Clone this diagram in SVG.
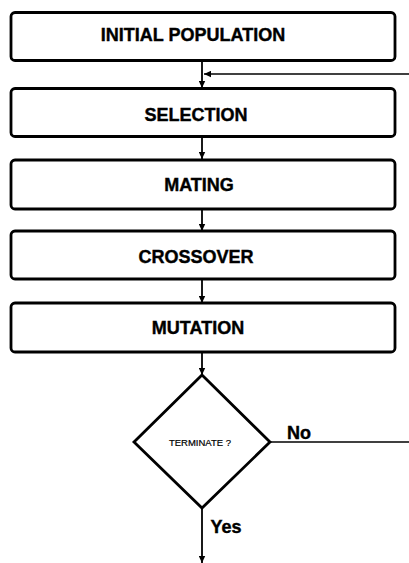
<svg xmlns="http://www.w3.org/2000/svg" width="409" height="563" viewBox="0 0 409 563">
<style>
.box{fill:#fff;stroke:#000;stroke-width:2.8}
.lbl{font-family:"Liberation Sans",Arial,sans-serif;font-weight:bold;font-size:18px;fill:#000;stroke:#000;stroke-width:0.4;text-anchor:middle}
.small{font-family:"Liberation Sans",Arial,sans-serif;font-size:9.5px;fill:#000;stroke:#000;stroke-width:0.2;text-anchor:middle}
.edge{fill:none;stroke:#000;stroke-width:1.8}
.thin{fill:none;stroke:#000;stroke-width:1.3}
</style>
<defs>
<marker id="ah" markerUnits="userSpaceOnUse" markerWidth="7" markerHeight="7" viewBox="0 0 7 7" refX="7" refY="3.5" orient="auto">
<path d="M0,0.3 L7,3.5 L0,6.7 z" fill="#000"/>
</marker>
</defs>
<rect width="409" height="563" fill="#fff"/>
<g id="connectors">
<line class="edge" x1="202" y1="60" x2="202" y2="88" marker-end="url(#ah)"/>
<line class="thin" x1="409" y1="74" x2="204" y2="74" marker-end="url(#ah)"/>
<line class="edge" x1="202" y1="137" x2="202" y2="159" marker-end="url(#ah)"/>
<line class="edge" x1="202" y1="209" x2="202" y2="231" marker-end="url(#ah)"/>
<line class="edge" x1="202" y1="279" x2="202" y2="303" marker-end="url(#ah)"/>
<line class="edge" x1="202" y1="352" x2="202" y2="375" marker-end="url(#ah)"/>
<line class="thin" x1="270" y1="442" x2="409" y2="442"/>
<line class="edge" x1="202" y1="508" x2="202" y2="563" marker-end="url(#ah)"/>
<text class="lbl" x="299" y="439">No</text>
<text class="lbl" x="226" y="533">Yes</text>
</g>
<g id="initial">
<rect class="box" x="11" y="12.5" width="384" height="48" rx="4"/>
<text class="lbl" x="193" y="41">INITIAL POPULATION</text>
</g>
<g id="selection">
<rect class="box" x="11" y="88.5" width="384" height="48" rx="4"/>
<text class="lbl" x="196" y="121">SELECTION</text>
</g>
<g id="mating">
<rect class="box" x="11" y="160" width="384" height="49" rx="4"/>
<text class="lbl" x="199" y="191">MATING</text>
</g>
<g id="crossover">
<rect class="box" x="11" y="231" width="384" height="48" rx="4"/>
<text class="lbl" x="196" y="263">CROSSOVER</text>
</g>
<g id="mutation">
<rect class="box" x="11" y="303" width="384" height="49" rx="4"/>
<text class="lbl" x="198" y="334">MUTATION</text>
</g>
<g id="terminate">
<polygon points="202,375 270,442 202,508 134,442" fill="#fff" stroke="#000" stroke-width="2.8" stroke-linejoin="miter"/>
<text class="small" x="200" y="446">TERMINATE ?</text>
</g>
</svg>
